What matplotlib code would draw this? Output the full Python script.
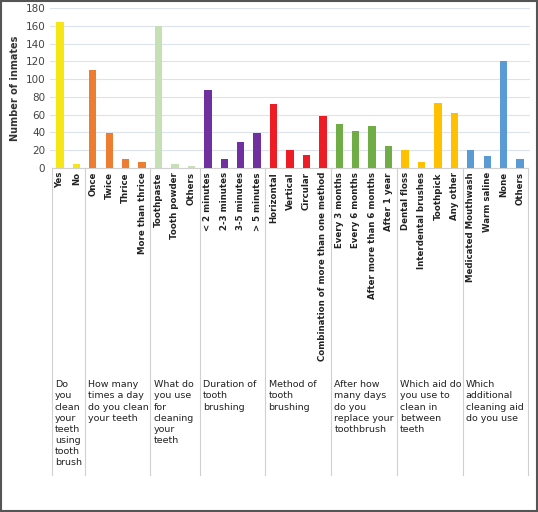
import matplotlib.pyplot as plt
import matplotlib.transforms as mtransforms
from matplotlib.patches import Rectangle

groups = ['Do\nyou\nclean\nyour\nteeth\nusing\ntooth\nbrush',
          'How many\ntimes a day\ndo you clean\nyour teeth',
          'What do\nyou use\nfor\ncleaning\nyour\nteeth',
          'Duration of\ntooth\nbrushing',
          'Method of\ntooth\nbrushing',
          'After how\nmany days\ndo you\nreplace your\ntoothbrush',
          'Which aid do\nyou use to\nclean in\nbetween\nteeth',
          'Which\nadditional\ncleaning aid\ndo you use']
labels = [['Yes', 'No'],
          ['Once', 'Twice', 'Thrice', 'More than thrice'],
          ['Toothpaste', 'Tooth powder', 'Others'],
          ['< 2 minutes', '2-3 minutes', '3-5 minutes', '> 5 minutes'],
          ['Horizontal', 'Vertical', 'Circular', 'Combination of more than one method'],
          ['Every 3 months', 'Every 6 months', 'After more than 6 months', 'After 1 year'],
          ['Dental floss', 'Interdental brushes', 'Toothpick', 'Any other'],
          ['Medicated Mouthwash', 'Warm saline', 'None', 'Others']]
values = [[165, 4],
          [110, 39, 10, 7],
          [160, 4, 2],
          [88, 10, 29, 39],
          [72, 20, 15, 58],
          [50, 42, 47, 25],
          [20, 7, 73, 62],
          [20, 13, 121, 10]]
colors = ['#f5e614', '#ed7d31', '#c5e0b4', '#7030a0', '#ee1c25', '#70ad47', '#ffc000', '#5b9bd5']

fig = plt.figure(figsize=(5.38, 5.12), dpi=100)
ax = fig.add_axes([0.093, 0.672, 0.892, 0.312])

xs, ticks, starts = [], [], []
pos = 0
for g, (labs, vals) in enumerate(zip(labels, values)):
    starts.append(pos)
    idx = list(range(pos, pos + len(vals)))
    ax.bar(idx, vals, width=0.45, color=colors[g], zorder=3)
    xs += idx
    ticks += labs
    pos += len(vals)
starts.append(pos)

ax.set_xlim(-0.6, pos - 0.4)
ax.set_ylim(0, 180)
ax.set_yticks(range(0, 181, 20))
ax.tick_params(axis='y', labelsize=7.5, colors='#444444', length=0)
ax.set_xticks(xs)
ax.set_xticklabels(ticks, rotation=90, fontsize=6.2, fontweight='bold', color='#222222')
ax.tick_params(axis='x', length=0, pad=3)
ax.set_ylabel('Number of inmates', fontsize=7, fontweight='bold', color='#333333')
ax.grid(axis='y', color='#dde3ee', lw=0.8, zorder=0)
for s in ax.spines.values():
    s.set_visible(False)

trans = mtransforms.blended_transform_factory(ax.transData, ax.transAxes)
for st in starts:
    ax.plot([st - 0.5, st - 0.5], [0, -1.92], color='#d0d0d0', lw=0.8,
            transform=trans, clip_on=False)
ax.plot([-0.5, pos - 0.5], [0, 0], color='#d0d0d0', lw=0.8, transform=trans, clip_on=False)
for g, txt in enumerate(groups):
    ax.text(starts[g] - 0.3, -1.33, txt, transform=trans, ha='left', va='top',
            fontsize=6.8, color='#222222', linespacing=1.3)

fig.add_artist(Rectangle((0.002, 0.002), 0.996, 0.996, transform=fig.transFigure,
                         fill=False, edgecolor='#555555', lw=1.5))
fig.savefig('out.png')
